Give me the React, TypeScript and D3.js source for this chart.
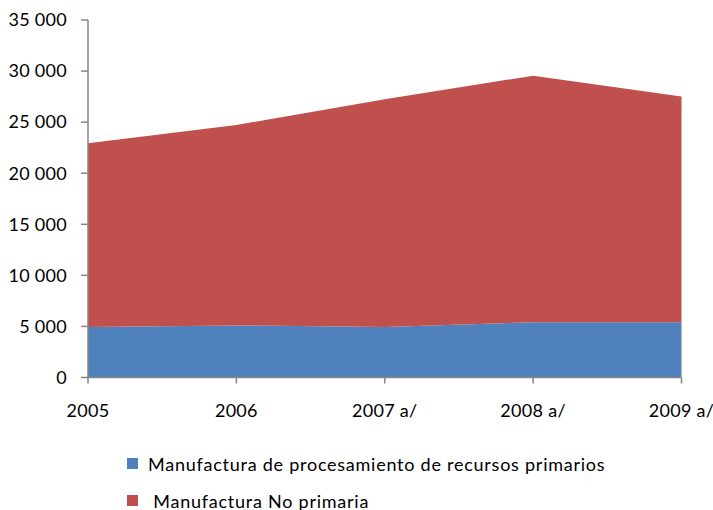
import React from "react";
import * as d3 from "d3";

const years = ["2005", "2006", "2007 a/", "2008 a/", "2009 a/"];
const primaria = [4950, 5100, 4950, 5400, 5400];
const noPrimaria = [17980, 19620, 22280, 24150, 22100];
const yTicks = [0, 5000, 10000, 15000, 20000, 25000, 30000, 35000];
const seriesNames = [
  "Manufactura de procesamiento de recursos primarios",
  " Manufactura No primaria",
];
const colors = ["#4F81BD", "#C0504D"];

const W = 713;
const H = 510;
const left = 88;
const right = 681.5;
const top = 20;
const bottom = 377.5;
const FONT = "Lato, 'Open Sans', sans-serif";

export default function App() {
  const rows = years.map((y, i) => ({ year: y, a: primaria[i], b: noPrimaria[i] }));
  const stack = d3.stack<any>().keys(["a", "b"]);
  const layers = stack(rows);
  const x = d3.scalePoint<string>().domain(years).range([left, right]);
  const y = d3.scaleLinear().domain([0, 35000]).range([bottom, top]);
  const area = d3
    .area<any>()
    .x((d: any) => x(d.data.year) as number)
    .y0((d: any) => y(d[0]))
    .y1((d: any) => y(d[1]));
  const fmt = (v: number) => {
    const s = d3.format(",")(v);
    return s.replace(/,/g, " ");
  };
  return (
    <svg
      width={W}
      height={H}
      style={{ position: "absolute", left: 0, top: 0, background: "#fff" }}
    >
      {layers.map((l, i) => (
        <path key={i} d={area(l as any) || ""} fill={colors[i]} />
      ))}
      <line x1={left} x2={left} y1={top} y2={bottom} stroke="#868686" strokeWidth={1.5} />
      <line x1={left} x2={right} y1={bottom} y2={bottom} stroke="#868686" strokeWidth={1.5} />
      {yTicks.map((t) => (
        <g key={t}>
          <line x1={left - 7} x2={left} y1={y(t)} y2={y(t)} stroke="#868686" strokeWidth={1.5} />
          <text
            x={67}
            y={y(t)}
            dy="0.35em"
            textAnchor="end"
            fontFamily={FONT}
            fontSize={18}
            letterSpacing={0.3}
            fill="#000"
          >
            {fmt(t)}
          </text>
        </g>
      ))}
      {years.map((yr) => (
        <g key={yr}>
          <line
            x1={x(yr)}
            x2={x(yr)}
            y1={bottom}
            y2={bottom + 6}
            stroke="#868686"
            strokeWidth={1.5}
          />
          <text
            x={x(yr)}
            y={417}
            textAnchor="middle"
            fontFamily={FONT}
            fontSize={18}
            letterSpacing={0.3}
            fill="#000"
          >
            {yr}
          </text>
        </g>
      ))}
      {seriesNames.map((n, i) => (
        <g key={n}>
          <rect x={127} y={458 + i * 37} width={11} height={11} fill={colors[i]} />
          <text
            x={148}
            y={471 + i * 37}
            fontFamily={FONT}
            fontSize={18}
            letterSpacing={0.75}
            fill="#000"
            style={{ whiteSpace: "pre" }}
          >
            {n}
          </text>
        </g>
      ))}
    </svg>
  );
}
